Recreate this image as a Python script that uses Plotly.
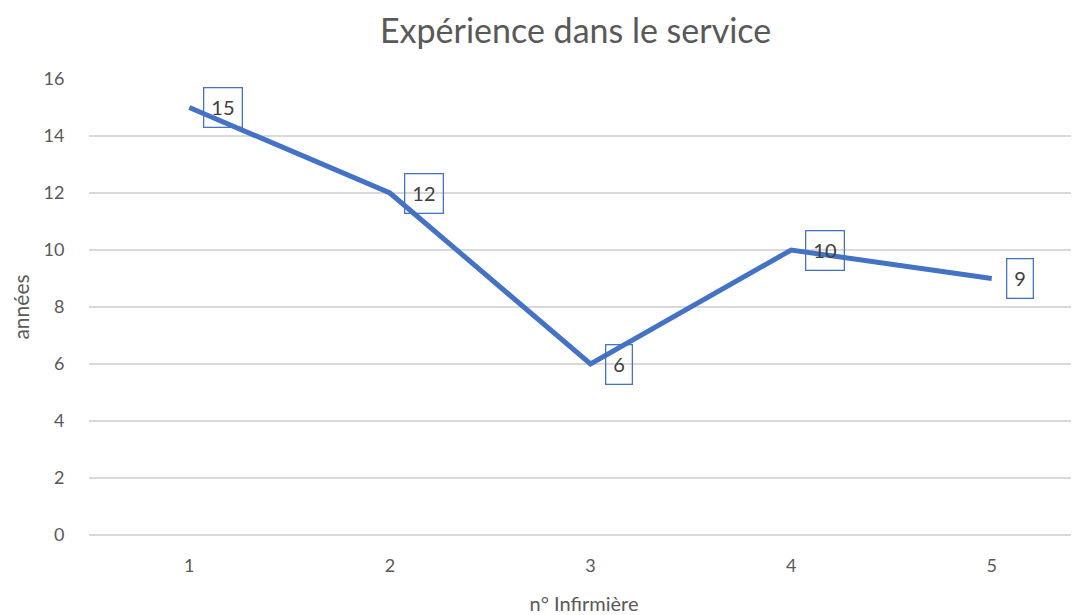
import plotly.graph_objects as go

categories = [1, 2, 3, 4, 5]
values = [15, 12, 6, 10, 9]
y_ticks = [0, 2, 4, 6, 8, 10, 12, 14, 16]

FONT = "Lato"
TXT = "#595959"
BLUE = "#4472C4"
GRID = "#D9D9D9"

fig = go.Figure()
fig.add_trace(go.Scatter(
    x=categories, y=values, mode="lines",
    line=dict(color=BLUE, width=5),
    hoverinfo="skip",
))

for c, v in zip(categories, values):
    fig.add_annotation(
        x=c, y=v, text=str(v), showarrow=False, xanchor="left", xshift=14,
        font=dict(family=FONT, size=20, color="#404040"),
        bordercolor=BLUE, borderwidth=1.3, borderpad=7,
        bgcolor="rgba(0,0,0,0)",
    )

fig.update_layout(
    width=1071, height=607,
    margin=dict(l=81, r=0, t=71, b=80),
    paper_bgcolor="white", plot_bgcolor="white",
    showlegend=False,
    title=dict(text="Expérience dans le service", x=0.53, xanchor="center",
               y=0.962, yanchor="middle",
               font=dict(family=FONT, size=34, color=TXT)),
    font=dict(family=FONT, color=TXT, size=18),
)

fig.update_xaxes(
    range=[0.5, 5.435], tickvals=categories, ticktext=[str(c) for c in categories],
    showgrid=False, zeroline=False, showline=False, automargin=False,
    ticks="outside", ticklen=14, tickcolor="rgba(0,0,0,0)",
    tickfont=dict(family=FONT, size=18, color=TXT),
    title=dict(text="n° Infirmière", standoff=22,
               font=dict(family=FONT, size=20, color=TXT)),
)
fig.update_yaxes(
    range=[0, 16], tickvals=y_ticks,
    showgrid=True, gridcolor=GRID, gridwidth=1.5,
    zeroline=True, zerolinecolor=GRID, zerolinewidth=1.5,
    showline=False, automargin=False,
    ticks="outside", ticklen=20, tickcolor="rgba(0,0,0,0)",
    tickfont=dict(family=FONT, size=18, color=TXT),
    title=dict(text="années", standoff=11,
               font=dict(family=FONT, size=21, color=TXT)),
)

fig.write_html("out.html")
